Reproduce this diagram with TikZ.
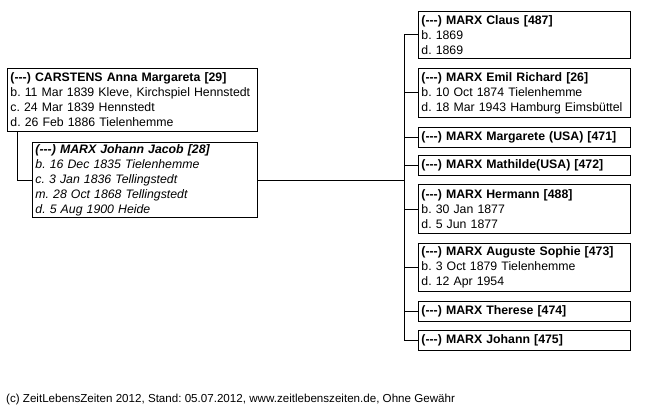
\documentclass[tikz,border=0pt]{standalone}
\usepackage{fontspec}
\setmainfont{Liberation Sans}
\frenchspacing
\usetikzlibrary{positioning}

\tikzset{
  person/.style={draw, line width=0.9pt, anchor=north west, align=left,
    inner xsep=3pt, inner ysep=0pt,
    font=\fontsize{12.3}{15}\selectfont},
  parent/.style={person, text width=244pt},
  child/.style={person, text width=206pt},
  link/.style={line width=0.9pt},
}
% three plain hyphens, no dash ligature
\newcommand{\nodash}{(-{}-{}-)}

\begin{document}
\begin{tikzpicture}[x=1pt, y=-1pt]
    % canvas in pixel units, y going down
    \useasboundingbox (0,0) rectangle (651,412);

    % Parents
    \node[parent, minimum height=63] (carstens) at (7,68)
      {\textbf{\nodash{} CARSTENS Anna Margareta [29]}\\
       b. 11 Mar 1839 Kleve, Kirchspiel Hennstedt\\
       c. 24 Mar 1839 Hennstedt\\
       d. 26 Feb 1886 Tielenhemme};
    \node[person, text width=219pt, minimum height=75] (jacob) at (32,142)
      {\textbf{\itshape \nodash{} MARX Johann Jacob [28]}\\
       \itshape b. 16 Dec 1835 Tielenhemme\\
       \itshape c. 3 Jan 1836 Tellingstedt\\
       \itshape m. 28 Oct 1868 Tellingstedt\\
       \itshape d. 5 Aug 1900 Heide};

    % Children
    \node[child, minimum height=47] (claus) at (418,11)
      {\textbf{\nodash{} MARX Claus [487]}\\b. 1869\\d. 1869};
    \node[child, minimum height=49] (emil) at (418,68)
      {\textbf{\nodash{} MARX Emil Richard [26]}\\b. 10 Oct 1874 Tielenhemme\\d. 18 Mar 1943 Hamburg Eimsbüttel};
    \node[child, minimum height=20] (margarete) at (418,127)
      {\textbf{\nodash{} MARX Margarete (USA) [471]}};
    \node[child, minimum height=20] (mathilde) at (418,155)
      {\textbf{\nodash{} MARX Mathilde(USA) [472]}};
    \node[child, minimum height=49] (hermann) at (418,184)
      {\textbf{\nodash{} MARX Hermann [488]}\\b. 30 Jan 1877\\d. 5 Jun 1877};
    \node[child, minimum height=48] (auguste) at (418,243)
      {\textbf{\nodash{} MARX Auguste Sophie [473]}\\b. 3 Oct 1879 Tielenhemme\\d. 12 Apr 1954};
    \node[child, minimum height=20] (therese) at (418,301)
      {\textbf{\nodash{} MARX Therese [474]}};
    \node[child, minimum height=20] (johann) at (418,330)
      {\textbf{\nodash{} MARX Johann [475]}};

    % Connectors
    \coordinate (trunk) at (404,0);
    \draw[link] (carstens.south west) ++(10,0) |- (jacob.west);
    \draw[link] (jacob.east) -- (jacob.east -| trunk);
    \draw[link] (claus.west -| trunk) -- (johann.west -| trunk);
    \foreach \kid in {claus,emil,margarete,mathilde,hermann,auguste,therese,johann}
      \draw[link] (\kid.west) -- (\kid.west -| trunk);

    % Footer
    \node[anchor=west, inner sep=0pt, font=\fontsize{11.6}{14}\selectfont] (footer) at (6,399)
      {(c) ZeitLebensZeiten 2012, Stand: 05.07.2012, www.zeitlebenszeiten.de, Ohne Gewähr};
\end{tikzpicture}
\end{document}
